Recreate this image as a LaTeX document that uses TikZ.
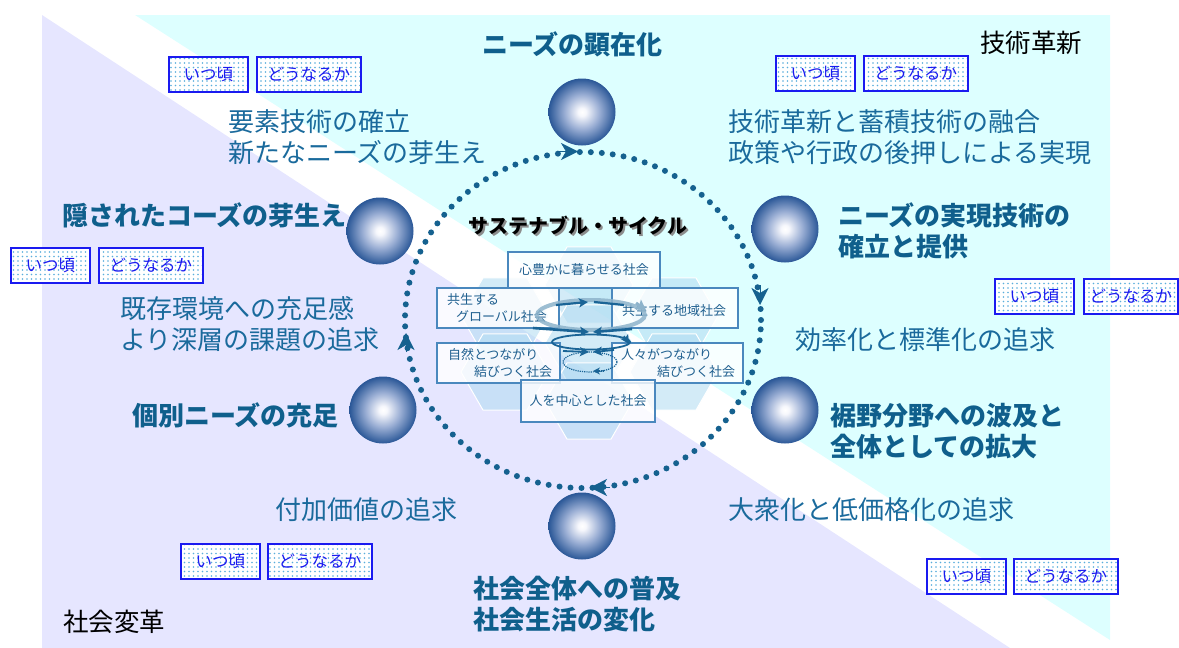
\documentclass[tikz,border=0pt]{standalone}
\usepackage{fontspec}
\setmainfont{Noto Sans CJK JP}
\usetikzlibrary{arrows.meta,patterns}
\definecolor{lav}{HTML}{E6E6FF}
\definecolor{cya}{HTML}{DDFFFF}
\definecolor{headc}{HTML}{0F5F8C}
\definecolor{bodyc}{HTML}{1A6A9C}
\definecolor{ringc}{HTML}{15618F}
\definecolor{btnc}{HTML}{1A1AF0}
\definecolor{dotc}{HTML}{5AAEDC}
\definecolor{sphc}{HTML}{2A5797}
\definecolor{sphm}{HTML}{9AAED4}
\definecolor{sphw}{HTML}{F6F7FC}
\definecolor{hexc}{HTML}{B5DDF2}
\definecolor{boxc}{HTML}{4A88BE}
\definecolor{boxt}{HTML}{1F5F8F}
\definecolor{swc}{HTML}{1A6496}
\definecolor{swl}{HTML}{8DB3CB}
\pgfdeclarepatternformonly{sdots}{\pgfpoint{-1pt}{-1pt}}{\pgfpoint{1pt}{1pt}}{\pgfpoint{4.5pt}{4.5pt}}{\pgfpathcircle{\pgfpointorigin}{0.9pt}\pgfusepath{fill}}
\pgfdeclareradialshading{sphere}{\pgfpoint{0bp}{0bp}}{color(0bp)=(white); color(3bp)=(sphw); color(13bp)=(sphm); color(25bp)=(sphc); color(50bp)=(sphc)}
\tikzset{
  sph/.style={circle, minimum size=67pt, inner sep=0pt, shading=sphere},
  head/.style={font=\bfseries\fontsize{26}{31}\selectfont, text=headc, anchor=west, align=left, inner sep=0pt},
  body/.style={font=\fontsize{26}{31}\selectfont, text=bodyc, anchor=west, align=left, inner sep=0pt},
  corner/.style={font=\fontsize{25.5}{31}\selectfont, text=black, anchor=west, inner sep=0pt},
  btn/.style={draw=btnc, line width=1.5pt, preaction={fill=white}, pattern=sdots, pattern color=dotc, text=btnc, font=\fontsize{16.5}{16.5}\selectfont, minimum height=35pt, inner sep=0pt, anchor=north west},
  when/.style={btn, minimum width=79pt},
  what/.style={btn, minimum width=104pt},
  ring/.style={ringc, line width=6pt, line cap=round, dash pattern=on 0pt off 11pt},
  ringtip/.style={ringc, line width=0.5pt, -{Stealth[length=17pt,width=17pt,inset=5pt]}},
  hexstyle/.style={fill=hexc, fill opacity=0.6, draw=white, line width=1pt},
  hexa/.pic={\path[hexstyle] (0:44) -- (60:44) -- (120:44) -- (180:44) -- (240:44) -- (300:44) -- cycle;},
  sbox/.style={draw=boxc, line width=1.2pt, fill=white, fill opacity=0.8, text opacity=1, text=boxt, font=\fontsize{13}{17}\selectfont, inner sep=0pt, align=left},
  sw/.style={swc, line width=2.2pt},
  swtip/.style={sw, -{Stealth[length=9pt,width=9pt,inset=2pt]}},
}
\begin{document}
\begin{tikzpicture}[x=1pt,y=-1pt]
\useasboundingbox (0,0) rectangle (1179,648);
% background
\fill[lav] (42,15) -- (42,648) -- (1010,648) -- cycle;
\fill[cya] (135,15) -- (1110,15) -- (1110,640) -- cycle;
% honeycomb
\pic at (589,285) {hexa};
\pic at (505,316) {hexa};
\pic at (674,316) {hexa};
\pic at (589,343) {hexa};
\pic at (505,372) {hexa};
\pic at (674,372) {hexa};
\pic at (589,401) {hexa};
% boxes
\node[sbox, minimum width=152pt, minimum height=36pt, align=center] (b1) at (584,270) {心豊かに暮らせる社会};
\node[sbox, minimum width=122pt, minimum height=40pt, text width=112pt] (b2) at (498,308) {\hspace*{5pt}共生する\\\hspace*{14pt}グローバル社会};
\node[sbox, minimum width=126pt, minimum height=40pt, text width=116pt] (b3) at (675,308) {\mbox{}\\\hspace*{5pt}共生する地域社会};
\node[sbox, minimum width=123pt, minimum height=40pt, text width=113pt] (b4) at (498.5,363) {\hspace*{6pt}自然とつながり\\\hspace*{32pt}結びつく社会};
\node[sbox, minimum width=131pt, minimum height=40pt, text width=121pt] (b5) at (677.5,363) {\hspace*{4pt}人々がつながり\\\hspace*{40pt}結びつく社会};
\node[sbox, minimum width=134pt, minimum height=42pt, align=center] (b6) at (588,401) {\raisebox{-6pt}{人を中心とした社会}};
% swirl
\draw[swl, line width=4pt, opacity=0.85] (591,315) ellipse [x radius=54pt, y radius=15pt];
\coordinate (lt1) at (636,303);
\coordinate (lt2) at (646,310);
\draw[swl, line width=3pt, -{Stealth[length=10pt,width=11pt,inset=2pt]}] (lt1) -- (lt2);
\coordinate (s1a) at (556,305);
\coordinate (s1b) at (588,302);
\coordinate (s1c) at (594,302);
\coordinate (s1d) at (624,305);
\draw[swtip] (s1a) -- (s1b);
\draw[sw] (s1c) -- (s1d);
\coordinate (s2a) at (533,328);
\coordinate (s2b) at (589,332);
\coordinate (s2c) at (632,329);
\coordinate (s2d) at (593,332);
\draw[swtip, line width=2.6pt] (s2a) -- (s2b);
\draw[swtip, line width=2.6pt] (s2c) -- (s2d);
\draw[swc, line width=1.8pt] (591,342) ellipse [x radius=39pt, y radius=7.5pt];
\coordinate (s3a) at (624,336);
\coordinate (s3b) at (629,344);
\draw[swtip, line width=1.5pt] (s3a) -- (s3b);
\coordinate (s4a) at (563,351);
\coordinate (s4b) at (589,352);
\coordinate (s4c) at (614,350);
\coordinate (s4d) at (593,352);
\draw[swtip, line width=1.8pt] (s4a) -- (s4b);
\draw[swtip, line width=1.8pt] (s4c) -- (s4d);
\draw[swc, line width=1.2pt, densely dotted] (590,362) ellipse [x radius=27pt, y radius=10pt];
\coordinate (s5a) at (604,371);
\coordinate (s5b) at (593,371);
\draw[swc, line width=1.2pt, densely dotted, -{Stealth[length=7pt,width=7pt]}] (s5a) -- (s5b);
% title
\node[font=\bfseries\fontsize{20}{20}\selectfont, text=black!45, inner sep=0pt] (titsh) at (580,228) {サステナブル・サイクル};
\node[font=\bfseries\fontsize{20}{20}\selectfont, text=black, inner sep=0pt] (tit) at (578,226) {サステナブル・サイクル};
% ring
\draw[ring] (583,320) ellipse [x radius=178pt, y radius=168pt];
\coordinate (rt1) at (559,151.5);
\coordinate (rt2) at (578,151.5);
\coordinate (rr1) at (760,285);
\coordinate (rr2) at (760,305);
\coordinate (rb1) at (610,487.5);
\coordinate (rb2) at (590,487.5);
\coordinate (rl1) at (406,352);
\coordinate (rl2) at (406,333);
\draw[ringtip] (rt1) -- (rt2);
\draw[ringtip] (rr1) -- (rr2);
\draw[ringtip] (rb1) -- (rb2);
\draw[ringtip] (rl1) -- (rl2);
% spheres
\node[sph] (p1) at (582,112) {};
\node[sph] (p2) at (785,229) {};
\node[sph] (p3) at (785,410) {};
\node[sph] (p4) at (582,526) {};
\node[sph] (p5) at (383,410) {};
\node[sph] (p6) at (380,231) {};
% headings
\node[head] (h1) at (482,44) {ニーズの顕在化};
\node[head] (h2) at (838,230.5) {ニーズの実現技術の\\確立と提供};
\node[head] (h3) at (830,431) {裾野分野への波及と\\全体としての拡大};
\node[head] (h4) at (473,604.5) {社会全体への普及\\社会生活の変化};
\node[head] (h5) at (132,415) {個別ニーズの充足};
\node[head] (h6) at (62,215) {隠されたコーズの芽生え};
% body texts
\node[body] (t1) at (228,137.5) {要素技術の確立\\新たなニーズの芽生え};
\node[body] (t2) at (728,137.5) {技術革新と蓄積技術の融合\\政策や行政の後押しによる実現};
\node[body] (t3) at (120,324) {既存環境への充足感\\より深層の課題の追求};
\node[body] (t4) at (795,340) {効率化と標準化の追求};
\node[body] (t5) at (275,510) {付加価値の追求};
\node[body] (t6) at (728,510) {大衆化と低価格化の追求};
\node[corner] (c1) at (980,43) {技術革新};
\node[corner] (c2) at (63,622) {社会変革};
% buttons
\node[when] (w1) at (168,56) {いつ頃};
\node[what] (q1) at (256,56) {どうなるか};
\node[when] (w2) at (775,55) {いつ頃};
\node[what] (q2) at (863,55) {どうなるか};
\node[when] (w3) at (10,247) {いつ頃};
\node[what] (q3) at (98,247) {どうなるか};
\node[when] (w4) at (994,278) {いつ頃};
\node[btn, minimum width=94pt] (q4) at (1083,278) {どうなるか};
\node[when] (w5) at (180,543) {いつ頃};
\node[what] (q5) at (267,543) {どうなるか};
\node[when] (w6) at (926,558) {いつ頃};
\node[what] (q6) at (1013,558) {どうなるか};
\end{tikzpicture}
\end{document}
